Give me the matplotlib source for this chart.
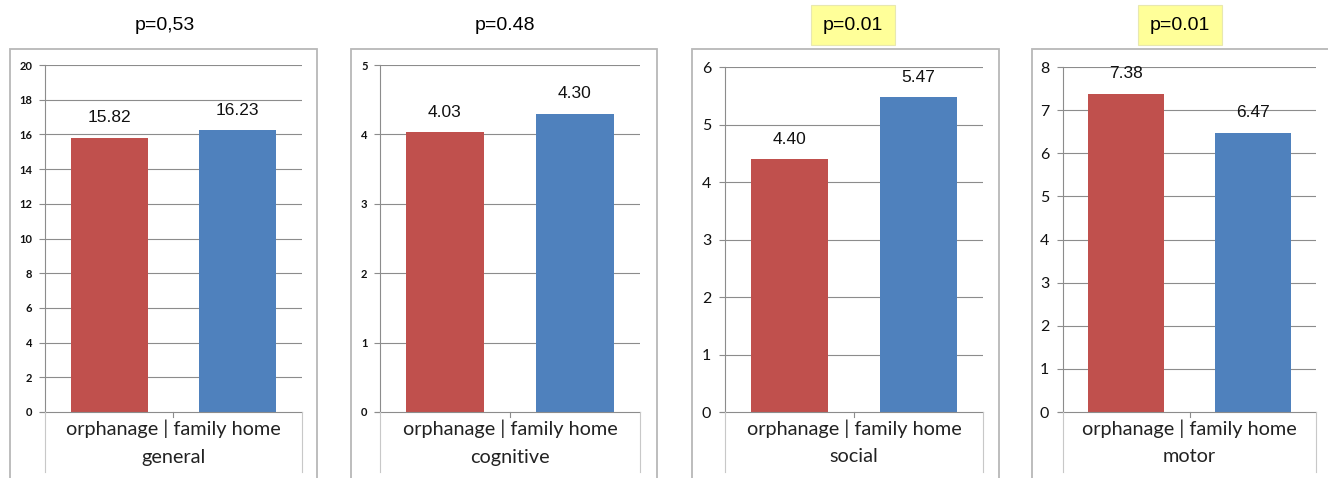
import matplotlib
matplotlib.use("Agg")
import matplotlib.pyplot as plt
from matplotlib.patches import Rectangle
from matplotlib.lines import Line2D

groups = ["orphanage", "family home"]
domains = ["general", "cognitive", "social", "motor"]
p_labels = ["p=0,53", "p=0.48", "p=0.01", "p=0.01"]
highlight = [False, False, True, True]
orphanage = [15.82, 4.03, 4.40, 7.38]
family_home = [16.23, 4.30, 5.47, 6.47]
y_max = [20, 5, 6, 8]
y_step = [2, 1, 1, 1]

W, H = 1328, 478
fig = plt.figure(figsize=(W / 100, H / 100), dpi=100)
fig.patch.set_facecolor("white")

RED = "#C0504D"
BLUE = "#4F81BD"
GRID = "#8c8c8c"
BORDER = "#b8b8b8"

# pixel layout: (box_left, box_right, ax_left, ax_right, ax_top, title_x)
layout = [
    (10, 317, 45, 302, 65, 165),
    (351, 657, 380, 640, 65, 505),
    (692, 999, 725, 983, 67, 853),
    (1032, 1339, 1063, 1316, 67, 1180),
]
ax_bottom = 412

def fx(px):
    return px / W

def fy(py):
    return 1 - py / H

for i, (bl, br, al, ar, at, tx) in enumerate(layout):
    # outer box
    fig.patches.append(Rectangle((fx(bl), fy(H + 5)), fx(br - bl), fy(49) - fy(H + 5),
                                 transform=fig.transFigure, fill=False,
                                 edgecolor=BORDER, linewidth=1.3))
    ax = fig.add_axes([fx(al), fy(ax_bottom), fx(ar - al), fy(at) - fy(ax_bottom)])
    vals = [orphanage[i], family_home[i]]
    ax.bar([0, 1], vals, width=0.6, color=[RED, BLUE], zorder=3)
    ax.set_xlim(-0.5, 1.5)
    ax.set_ylim(0, y_max[i])
    ticks = list(range(0, y_max[i] + 1, y_step[i]))
    ax.set_yticks(ticks)
    small = i < 2
    ax.set_yticklabels([str(t) for t in ticks],
                       fontsize=8 if small else 11.5,
                       fontweight="bold" if small else "normal",
                       family="Lato", color="#111111")
    ax.tick_params(axis="y", length=4, width=0.8, color=GRID, pad=5 if small else 6)
    ax.set_xticks([])
    for t in ticks[1:]:
        ax.axhline(t, color=GRID, linewidth=0.8, zorder=1)
    for s in ["top", "right", "bottom"]:
        ax.spines[s].set_visible(False)
    ax.spines["left"].set_color(GRID)
    ax.spines["left"].set_linewidth(0.8)
    for x, v in zip([0, 1], vals):
        ax.annotate(f"{v:.2f}", (x, v), xytext=(0, 9), textcoords="offset points",
                    ha="center", va="bottom", fontsize=12.5, family="Liberation Sans",
                    color="#111111")
    # category box below axis
    fig.add_artist(Line2D([fx(al - 5), fx(ar)], [fy(ax_bottom), fy(ax_bottom)],
                          color=GRID, linewidth=0.8))
    fig.add_artist(Line2D([fx(al), fx(al)], [fy(ax_bottom), fy(472)],
                          color="#c8c8c8", linewidth=0.8))
    fig.add_artist(Line2D([fx(ar), fx(ar)], [fy(ax_bottom), fy(472)],
                          color="#c8c8c8", linewidth=0.8))
    mid = (al + ar) / 2
    fig.add_artist(Line2D([fx(mid), fx(mid)], [fy(ax_bottom), fy(ax_bottom + 5)],
                          color=GRID, linewidth=0.8))
    fig.text(fx(mid), fy(429), f"{groups[0]} | {groups[1]}", ha="center", va="center",
             fontsize=14.3, family="Lato", color="#222222")
    fig.text(fx(mid), fy(457), domains[i], ha="center", va="center",
             fontsize=14.3, family="Lato", color="#222222")
    # title
    if highlight[i]:
        fig.text(fx(tx), fy(25), p_labels[i], ha="center", va="center",
                 fontsize=14, family="Liberation Sans",
                 bbox=dict(boxstyle="square,pad=0.6", facecolor="#FFFF99",
                           edgecolor="#e8e8b0", linewidth=0.8))
    else:
        fig.text(fx(tx), fy(25), p_labels[i], ha="center", va="center",
                 fontsize=14, family="Liberation Sans")

fig.savefig("out.png", dpi=100, facecolor="white")
